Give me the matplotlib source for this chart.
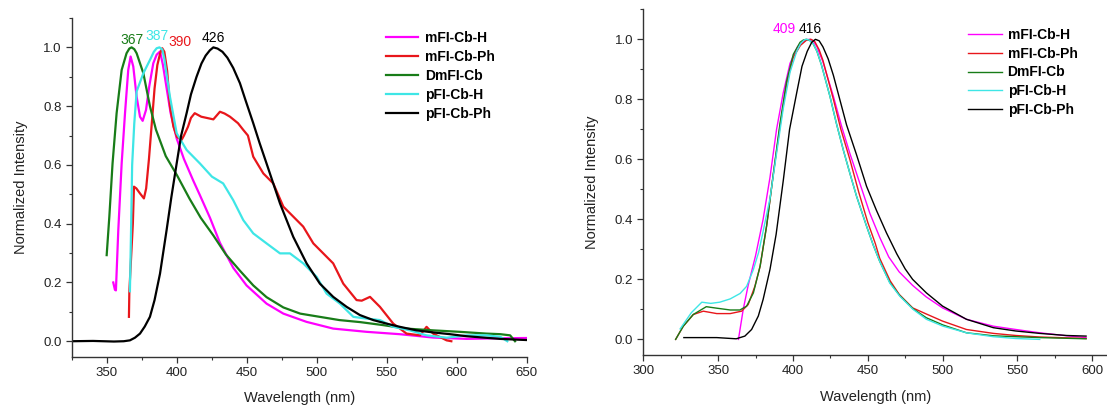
import numpy as np
import matplotlib
matplotlib.use('Agg')
import matplotlib.pyplot as plt
from matplotlib.ticker import MultipleLocator, FormatStrFormatter

plt.rcParams['font.family'] = ['Liberation Sans', 'DejaVu Sans']

names = ['mFI-Cb-H', 'mFI-Cb-Ph', 'DmFI-Cb', 'pFI-Cb-H', 'pFI-Cb-Ph']
colors = ['#ff00ff', '#e8161b', '#187c18', '#3ee6e6', '#000000']

# ---- left panel ----
L_mH_x = [354.5, 355.7, 356.4, 358.1, 360.5, 362.9, 365.2, 366.9, 368.8, 371.2, 373.6, 375.5,
          377.9, 380.2, 383.1, 385.5, 387.9, 390.0, 393.0, 395.5, 399.8, 405.0, 411.7, 416.4,
          423.6, 430.7, 440.2, 449.7, 464.0, 476.0, 492.5, 511.6, 535.4, 559.0, 583.0, 607.0,
          630.0, 650.0]
L_mH_y = [0.20, 0.175, 0.173, 0.378, 0.605, 0.776, 0.923, 0.969, 0.935, 0.832, 0.764, 0.750,
          0.787, 0.867, 0.946, 0.975, 0.986, 0.940, 0.850, 0.776, 0.690, 0.620, 0.546, 0.497,
          0.420, 0.335, 0.250, 0.190, 0.128, 0.094, 0.066, 0.043, 0.032, 0.024, 0.0125, 0.008,
          0.010, 0.011]

L_mPh_x = [365.7, 366.0, 368.5, 369.3, 371.0, 373.6, 376.4, 378.0, 380.0, 382.0, 384.0, 386.0,
           388.0, 389.5, 391.0, 393.0, 395.0, 397.5, 400.0, 403.3, 405.0, 407.9, 410.0, 412.7,
           417.4, 422.2, 426.0, 430.7, 434.0, 437.9, 443.6, 447.4, 450.7, 454.5, 461.7, 468.8,
           476.0, 483.1, 490.2, 497.4, 504.5, 511.6, 518.8, 528.3, 532.0, 537.9, 545.0, 554.5,
           564.0, 573.6, 578.3, 583.0, 592.6, 596.0]
L_mPh_y = [0.083, 0.17, 0.40, 0.526, 0.52, 0.503, 0.486, 0.52, 0.62, 0.74, 0.86, 0.94,
           0.98, 0.997, 0.985, 0.92, 0.80, 0.73, 0.695, 0.685, 0.70, 0.73, 0.76, 0.776,
           0.764, 0.759, 0.755, 0.781, 0.775, 0.764, 0.742, 0.719, 0.700, 0.628, 0.571, 0.537,
           0.458, 0.424, 0.390, 0.333, 0.299, 0.265, 0.196, 0.140, 0.138, 0.151, 0.117, 0.060,
           0.026, 0.020, 0.049, 0.026, 0.003, 0.0]

L_Dm_x = [349.8, 351.7, 354.0, 356.9, 360.5, 364.0, 366.0, 367.6, 369.5, 371.2, 376.0, 380.7,
          385.0, 392.0, 400.0, 409.0, 417.0, 426.0, 435.0, 445.0, 454.5, 464.0, 476.0, 488.0,
          502.0, 516.0, 531.0, 547.0, 564.0, 583.0, 602.0, 621.0, 631.0, 638.0, 641.5]
L_Dm_y = [0.293, 0.424, 0.605, 0.776, 0.923, 0.980, 0.996, 1.0, 0.994, 0.980, 0.912, 0.80,
          0.72, 0.63, 0.565, 0.485, 0.42, 0.36, 0.295, 0.24, 0.19, 0.15, 0.115, 0.094,
          0.083, 0.072, 0.065, 0.055, 0.043, 0.037, 0.032, 0.026, 0.024, 0.02, 0.0]

L_pH_x = [366.4, 367.3, 368.0, 369.5, 371.2, 376.0, 380.7, 383.5, 385.5, 387.5, 389.5, 391.0,
          392.5, 395.0, 399.8, 406.9, 416.4, 425.0, 433.0, 440.2, 447.4, 454.5, 464.0, 473.6,
          480.7, 490.2, 499.8, 506.9, 516.4, 526.0, 535.4, 545.0, 554.5, 566.4, 578.3, 592.6,
          607.0, 621.0, 631.0, 636.0]
L_pH_y = [0.17, 0.40, 0.60, 0.74, 0.85, 0.912, 0.957, 0.985, 0.997, 1.0, 0.993, 0.96,
          0.91, 0.832, 0.708, 0.651, 0.605, 0.56, 0.537, 0.48, 0.412, 0.367, 0.333, 0.299,
          0.299, 0.265, 0.219, 0.162, 0.128, 0.083, 0.077, 0.072, 0.049, 0.037, 0.020, 0.012,
          0.020, 0.020, 0.015, 0.0]

L_pPh_x = [325.0, 340.0, 355.0, 362.0, 366.4, 370.0, 373.6, 377.0, 380.7, 384.0, 387.9, 392.6,
           396.0, 399.8, 403.0, 406.9, 410.0, 414.0, 417.5, 420.5, 423.5, 426.0, 429.0, 432.5,
           436.0, 440.2, 445.0, 449.0, 454.5, 459.0, 464.0, 473.6, 483.1, 492.6, 502.1, 511.6,
           521.2, 530.7, 540.2, 549.7, 559.2, 571.1, 583.0, 595.0, 606.9, 618.8, 630.7, 650.0]
L_pPh_y = [0.0, 0.001, -0.001, 0.0, 0.003, 0.012, 0.026, 0.05, 0.083, 0.14, 0.23, 0.378,
           0.49, 0.605, 0.70, 0.776, 0.84, 0.90, 0.945, 0.972, 0.99, 1.0, 0.996, 0.985,
           0.965, 0.930, 0.878, 0.82, 0.742, 0.675, 0.605, 0.469, 0.355, 0.265, 0.196, 0.151,
           0.117, 0.089, 0.072, 0.060, 0.049, 0.037, 0.030, 0.024, 0.017, 0.0125, 0.008, 0.004]

# ---- right panel ----
R_mH_x = [363.5, 366.7, 370.0, 375.0, 380.0, 384.6, 389.0, 393.4, 398.0, 403.0, 407.0, 409.5,
          411.5, 413.5, 416.0, 420.0, 427.0, 432.5, 438.0, 444.7, 451.4, 458.0, 464.0, 471.0,
          480.0, 489.0, 500.0, 516.0, 534.0, 549.0, 565.0, 583.0, 596.0]
R_mH_y = [0.0, 0.10, 0.18, 0.28, 0.40, 0.54, 0.70, 0.82, 0.92, 0.975, 0.993, 0.999,
          1.0, 0.995, 0.975, 0.925, 0.81, 0.71, 0.62, 0.52, 0.42, 0.34, 0.275, 0.225,
          0.18, 0.142, 0.105, 0.067, 0.044, 0.033, 0.022, 0.012, 0.006]

R_mPh_x = [321.5, 326.6, 333.3, 340.0, 349.0, 358.0, 365.6, 370.0, 374.5, 378.0, 382.4, 386.8,
           391.3, 395.7, 400.2, 405.0, 409.0, 412.0, 414.5, 417.5, 420.0, 427.0, 432.0, 438.0,
           444.0, 450.0, 455.0, 458.0, 465.0, 471.0, 480.0, 489.0, 500.0, 516.0, 534.0, 549.0,
           565.0, 596.0]
R_mPh_y = [0.0, 0.044, 0.083, 0.094, 0.086, 0.086, 0.094, 0.116, 0.177, 0.244, 0.38, 0.55,
           0.71, 0.85, 0.94, 0.98, 0.997, 1.0, 0.993, 0.965, 0.93, 0.80, 0.70, 0.60,
           0.49, 0.39, 0.32, 0.27, 0.195, 0.15, 0.105, 0.085, 0.061, 0.033, 0.020, 0.013,
           0.008, 0.003]

R_Dm_x = [321.5, 326.6, 333.3, 342.0, 349.0, 358.0, 364.5, 369.0, 373.5, 378.0, 382.4, 386.8,
          391.3, 395.7, 400.2, 404.7, 407.0, 409.0, 411.0, 413.5, 416.0, 419.0, 424.7, 429.0,
          433.6, 438.0, 442.5, 449.0, 453.6, 458.0, 464.7, 471.4, 480.3, 489.2, 500.3, 516.0,
          534.0, 549.0, 565.0, 596.0]
R_Dm_y = [0.0, 0.044, 0.083, 0.109, 0.104, 0.098, 0.098, 0.111, 0.155, 0.244, 0.38, 0.55,
          0.72, 0.86, 0.95, 0.99, 0.998, 1.0, 0.997, 0.985, 0.96, 0.915, 0.81, 0.72,
          0.632, 0.554, 0.477, 0.38, 0.315, 0.26, 0.19, 0.146, 0.102, 0.072, 0.048, 0.022,
          0.012, 0.009, 0.006, 0.002]

R_pH_x = [324.5, 332.0, 339.0, 345.0, 351.0, 358.0, 364.6, 369.0, 373.5, 377.0, 380.0, 384.6,
          389.0, 393.5, 398.0, 402.5, 405.0, 407.5, 409.0, 411.0, 413.5, 416.0, 419.0, 424.7,
          429.0, 433.6, 438.0, 442.5, 449.0, 453.6, 458.0, 464.7, 471.4, 480.3, 489.2, 500.3,
          516.0, 534.0, 549.0, 565.0]
R_pH_y = [0.035, 0.089, 0.124, 0.12, 0.124, 0.135, 0.153, 0.177, 0.233, 0.29, 0.36, 0.47,
          0.62, 0.77, 0.89, 0.96, 0.985, 0.998, 1.0, 0.997, 0.985, 0.96, 0.915, 0.81,
          0.72, 0.632, 0.554, 0.477, 0.38, 0.315, 0.26, 0.188, 0.144, 0.10, 0.067, 0.044,
          0.022, 0.009, 0.003, 0.0]

R_pPh_x = [327.0, 349.0, 362.0, 367.8, 372.3, 376.8, 380.0, 384.6, 388.7, 393.5, 397.7, 402.4,
           406.0, 409.5, 412.5, 415.0, 417.5, 420.0, 423.5, 427.0, 430.2, 435.8, 442.5, 449.2,
           455.8, 462.5, 469.4, 475.0, 480.0, 489.2, 500.0, 516.0, 534.0, 549.0, 565.0, 583.0,
           596.0]
R_pPh_y = [0.006, 0.006, 0.002, 0.011, 0.033, 0.078, 0.133, 0.233, 0.35, 0.53, 0.70, 0.82,
           0.91, 0.96, 0.99, 1.0, 0.995, 0.975, 0.935, 0.88, 0.82, 0.715, 0.615, 0.51,
           0.43, 0.355, 0.285, 0.235, 0.20, 0.155, 0.111, 0.067, 0.039, 0.028, 0.020, 0.013,
           0.011]

left_series = [(L_mH_x, L_mH_y), (L_mPh_x, L_mPh_y), (L_Dm_x, L_Dm_y),
               (L_pH_x, L_pH_y), (L_pPh_x, L_pPh_y)]
right_series = [(R_mH_x, R_mH_y), (R_mPh_x, R_mPh_y), (R_Dm_x, R_Dm_y),
                (R_pH_x, R_pH_y), (R_pPh_x, R_pPh_y)]

# peak labels: text, x, y, colour index
left_peaks = [('367', 368.2, 1.026, 2), ('387', 385.5, 1.039, 3),
              ('390', 402.1, 1.017, 1), ('426', 425.7, 1.031, 4)]
right_peaks = [('409', 393.9, 1.035, 0), ('416', 411.6, 1.035, 4)]

fig = plt.figure(figsize=(11.07, 4.08), dpi=100)
ax1 = fig.add_axes([0.0650, 0.1262, 0.4110, 0.8297])
ax2 = fig.add_axes([0.5813, 0.1299, 0.4187, 0.8473])


def style_axes(ax, xlim):
    ax.set_xlim(*xlim)
    ax.set_ylim(-0.052, 1.10)
    ax.spines['top'].set_visible(False)
    ax.spines['right'].set_visible(False)
    for s in ['left', 'bottom']:
        ax.spines[s].set_linewidth(1.0)
        ax.spines[s].set_color('#333333')
    ax.xaxis.set_major_locator(MultipleLocator(50))
    ax.xaxis.set_minor_locator(MultipleLocator(25))
    ax.yaxis.set_major_locator(MultipleLocator(0.2))
    ax.yaxis.set_minor_locator(MultipleLocator(0.1))
    ax.yaxis.set_major_formatter(FormatStrFormatter('%.1f'))
    ax.tick_params(which='major', direction='out', length=4, width=0.9,
                   color='#333333', labelsize=9.5, labelcolor='#222222', pad=3.5)
    ax.tick_params(which='minor', direction='out', length=2.5, width=0.8, color='#333333')
    ax.set_xlabel('Wavelength (nm)', fontsize=10.5, color='#222222', labelpad=9)
    ax.set_ylabel('Normalized Intensity', fontsize=10.5, color='#222222', labelpad=11)


# left panel
for (x, y), name, c in zip(left_series, names, colors):
    ax1.plot(x, y, color=c, lw=1.6, label=name)
style_axes(ax1, (325, 650))
for t, x, y, ci in left_peaks:
    ax1.text(x, y, t, color=colors[ci], fontsize=10, ha='center', va='center')
ax1.legend(loc='upper left', bbox_to_anchor=(386 / 1107, 1 - 31 / 408),
           bbox_transform=fig.transFigure, frameon=False, borderpad=0, borderaxespad=0,
           handlelength=2.3, handletextpad=0.5, labelspacing=0.36,
           prop={'weight': 'bold', 'size': 10})

# right panel
for (x, y), name, c in zip(right_series, names, colors):
    ax2.plot(x, y, color=c, lw=1.0, label=name)
style_axes(ax2, (300, 610))
for t, x, y, ci in right_peaks:
    ax2.text(x, y, t, color=colors[ci], fontsize=10, ha='center', va='center')
ax2.legend(loc='upper left', bbox_to_anchor=(968 / 1107, 1 - 28 / 408),
           bbox_transform=fig.transFigure, frameon=False, borderpad=0, borderaxespad=0,
           handlelength=2.45, handletextpad=0.4, labelspacing=0.34,
           prop={'weight': 'bold', 'size': 10})

fig.savefig('out.png', dpi=100)
